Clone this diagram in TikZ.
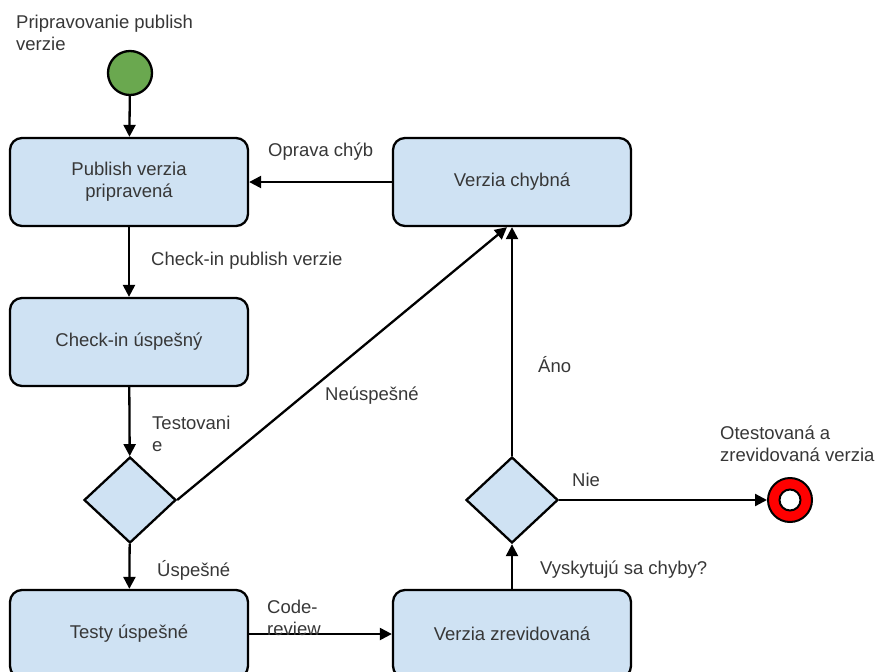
\documentclass[tikz,border=0pt]{standalone}
\usepackage{fontspec}
\setmainfont{Liberation Sans}
\usetikzlibrary{shapes.geometric,arrows.meta}

\definecolor{boxblue}{RGB}{207,226,243}
\definecolor{startgreen}{RGB}{106,168,79}
\definecolor{txtgray}{RGB}{55,55,55}
\newcommand{\lblfont}{\fontsize{18.5}{22}\selectfont}

\tikzset{
  state/.style={draw, line width=2.3pt, rounded corners=12pt, fill=boxblue,
    minimum width=238pt, minimum height=88pt, align=center, text=txtgray, font=\lblfont},
  decision/.style={draw, diamond, line width=2.3pt, fill=boxblue,
    minimum width=92pt, minimum height=86pt, inner sep=0pt},
  flow/.style={line width=2.3pt, -{Triangle[length=12pt,width=12pt]}},
  lbl/.style={anchor=west, align=left, text=txtgray, font=\lblfont, inner sep=0pt},
}

\begin{document}
\begin{tikzpicture}[x=1pt,y=-1pt]
  \useasboundingbox (0,0) rectangle (876,672);

  % start and end
  \node[draw, circle, line width=2.3pt, fill=startgreen, minimum size=44pt, inner sep=0pt] (start) at (130,73) {};
  \node[draw, circle, line width=2pt, fill=red, minimum size=44pt, inner sep=0pt] (finish) at (790,500) {};
  \node[draw, circle, line width=2pt, fill=white, minimum size=21pt, inner sep=0pt] (finishhole) at (finish) {};

  % states
  \node[state] (pub) at (129,182) {Publish verzia\\pripravená};
  \node[state] (err) at (512,182) {Verzia chybná};
  \node[state] (chk) at (129,342) {Check-in úspešný};
  \node[state] (ok)  at (129,634) {Testy úspešné};
  \node[state] (rev) at (512,634) {Verzia zrevidovaná};

  % decisions
  \node[decision] (test) at (130,500) {};
  \node[decision] (bugs) at (512,500) {};

  % connectors
  \draw[flow] (start) -- (pub);
  \draw[flow] (err) -- (pub);
  \draw[flow] (pub) -- (chk);
  \draw[flow] (chk) -- (test);
  \draw[flow] (test) -- (ok);
  \draw[flow] (test.east) -- ([xshift=-5pt]err.south);
  \draw[flow] (ok) -- (rev);
  \draw[flow] (rev) -- (bugs);
  \draw[flow] (bugs) -- (err);
  \draw[flow] (bugs) -- (finish);

  % labels
  \node[lbl] (lstart) at (16,33) {Pripravovanie publish\\verzie};
  \node[lbl] (lfix) at (268,152) {Oprava chýb};
  \node[lbl] (lcheck) at (151,261) {Check-in publish verzie};
  \node[lbl] (ltest) at (152,434) {Testovani\\e};
  \node[lbl] (lfail) at (325,396) {Neúspešné};
  \node[lbl] (lpass) at (157,570) {Úspešné};
  \node[lbl] (lreview) at (267,618) {Code-\\review};
  \node[lbl] (lask) at (540,570) {Vyskytujú sa chyby?};
  \node[lbl] (lyes) at (538,365) {Áno};
  \node[lbl] (lno) at (572,480) {Nie};
  \node[lbl] (ldone) at (720,444) {Otestovaná a\\zrevidovaná verzia};
\end{tikzpicture}
\end{document}
